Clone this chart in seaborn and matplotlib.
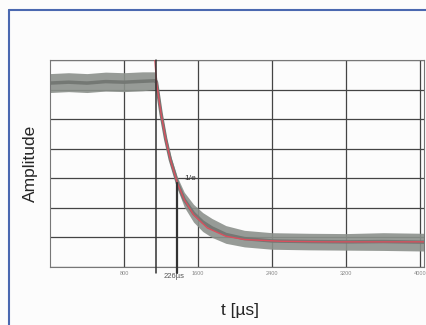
import numpy as np
import pandas as pd
import matplotlib
matplotlib.use("Agg")
import matplotlib.pyplot as plt
import seaborn as sns

t_meas = [0, 200, 400, 600, 800, 1000, 1140, 1150, 1200, 1250, 1300, 1376, 1450,
          1550, 1650, 1750, 1900, 2100, 2400, 2800, 3200, 3600, 4040]
a_meas = [6.22, 6.25, 6.22, 6.27, 6.25, 6.28, 6.30, 6.25, 5.18, 4.32, 3.63, 2.84, 2.28,
          1.82, 1.52, 1.32, 1.10, 0.96, 0.88, 0.86, 0.85, 0.86, 0.84]
a_noise = [0.32, 0.32, 0.32, 0.32, 0.32, 0.32, 0.3, 0.2, 0.15, 0.15, 0.16, 0.2, 0.25,
           0.3, 0.32, 0.32, 0.3, 0.28, 0.28, 0.28, 0.28, 0.3, 0.3]

# exponential fit (red)
t_fit = [1120, 1150, 1200, 1250, 1300, 1376, 1450, 1550, 1700, 1900, 2100, 2500, 3000, 4040]
a_fit = [7.6, 6.25, 5.18, 4.32, 3.63, 2.84, 2.28, 1.77, 1.32, 1.04, 0.93, 0.87, 0.85, 0.85]

x_ticks = [800, 1600, 2400, 3200, 4000]
x_tick_labels = ["800", "1600", "2400", "3200", "4000"]

t_step = 1150
t_tau = 1376
a_tau = 2.84
tau_label = "226µs"

sns.set_style("white")
plt.rcParams['font.family'] = ['Liberation Sans', 'DejaVu Sans']

fig = plt.figure(figsize=(4.26, 3.25), dpi=100)
fig.patch.set_facecolor("#fcfcfc")
ax = fig.add_axes([50/426, 1-267/325, 374/426, 207/325])
ax.set_facecolor("#fcfcfc")

df_m = pd.DataFrame({"t": t_meas, "a": a_meas, "n": a_noise})
lo = df_m["a"] - df_m["n"]
hi = df_m["a"] + df_m["n"]
ax.fill_between(df_m["t"], lo, hi, color="#8c918c", alpha=0.9, lw=0, zorder=2)
sns.lineplot(data=df_m, x="t", y="a", ax=ax, color="#747874", lw=2.5, zorder=3)

df_f = pd.DataFrame({"t": t_fit, "a": a_fit})
sns.lineplot(data=df_f, x="t", y="a", ax=ax, color="#d8505e", lw=1.0, zorder=4)

ax.set_xlim(0, 4040)
ax.set_ylim(0, 7)
ax.set_yticks(range(0, 8))
ax.set_yticklabels([])
ax.set_xticks(x_ticks)
ax.set_xticklabels(x_tick_labels, fontsize=4, color="#888888")
ax.tick_params(axis="both", length=0, pad=3)
ax.grid(True, color="#444444", lw=0.9, zorder=1)
ax.set_axisbelow(True)
for s in ax.spines.values():
    s.set_color("#777777")
    s.set_linewidth(0.8)

# marker lines
ax.plot([t_step, t_step], [-0.2, 7], color="#333333", lw=1.1, clip_on=False, zorder=5)
ax.plot([t_tau, t_tau], [-0.2, a_tau], color="#333333", lw=1.6, clip_on=False, zorder=5)
ax.text(t_tau + 80, a_tau + 0.15, "1/e", fontsize=6, color="#333333", va="center", zorder=6)
ax.text((t_step + t_tau) / 2 + 80, -0.2, tau_label, fontsize=5.5, color="#555555",
        ha="center", va="top")

ax.set_xlabel("")
ax.set_ylabel("")
fig.text(30/426, 1-163/325, "Amplitude", rotation=90, fontsize=12.5, ha="center", va="center")
fig.text(240/426, 1-310/325, "t [µs]", fontsize=12.5, ha="center", va="center")

# outer blue frame
fig.add_artist(plt.Line2D([8.5/426, 8.5/426], [0, 1-9.5/325], color="#4a68b0", lw=1.5,
                          transform=fig.transFigure))
fig.add_artist(plt.Line2D([8.5/426, 1], [1-9.5/325, 1-9.5/325], color="#4a68b0", lw=1.5,
                          transform=fig.transFigure))

fig.savefig("out.png", dpi=100)
